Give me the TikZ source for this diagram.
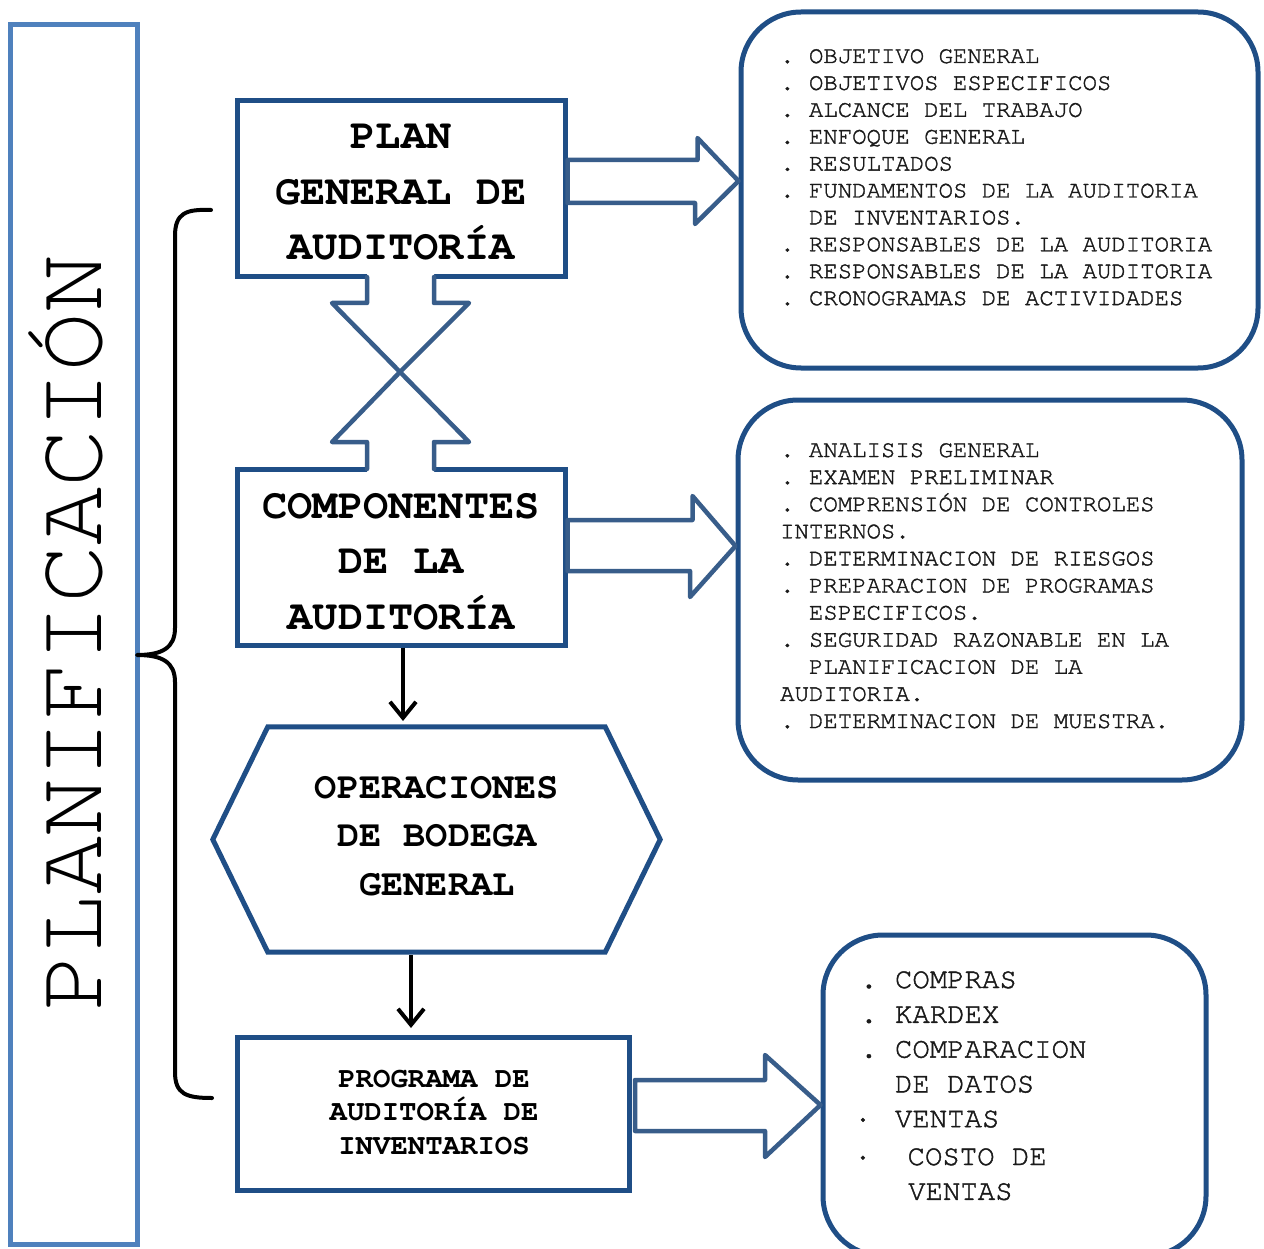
\documentclass[tikz,border=0pt]{standalone}
\usepackage{fontspec}
\setmainfont{TeX Gyre Cursor}
\newfontfamily\listfont[FakeBold=1.5]{TeX Gyre Cursor}
\usetikzlibrary{arrows.meta,calc}

\definecolor{boxblue}{HTML}{1F4E86}
\definecolor{arrowblue}{HTML}{385D8A}
\definecolor{frameblue}{HTML}{4F81BD}
\definecolor{listgray}{HTML}{1A1A1A}

\tikzset{
  mainbox/.style={draw=boxblue, line width=5pt, fill=white, inner sep=0pt},
  listbox/.style={draw=boxblue, line width=5pt, fill=white, rounded corners=60pt, inner sep=0pt},
  sideframe/.style={draw=frameblue, line width=5pt, inner sep=0pt},
  blockarrow/.style={draw=arrowblue, line width=4.5pt, line join=round, fill=white},
  openarrow/.style={draw=arrowblue, line width=4.5pt, line join=round, line cap=round},
  thinarrow/.style={draw=black, line width=4pt, -{Straight Barb[length=16pt,width=26pt,line width=4pt]}},
  bracestroke/.style={draw=black, line width=4pt, line cap=round, line join=round},
  headtext/.style={anchor=base, inner sep=0pt, text=black},
  listtext/.style={anchor=base west, inner sep=0pt, text=listgray}
}

\begin{document}
\frenchspacing
\begin{tikzpicture}[x=1pt,y=-1pt]
\useasboundingbox (0,0) rectangle (1264,1249);

% left frame with the vertical title
\node[sideframe, minimum width=127pt, minimum height=1219pt] (side) at (73.5,634.5) {};
\node[rotate=90, anchor=base, inner sep=0pt, font=\fontsize{97}{97}\selectfont] (sidetitle) at (101,633) {PLANIFICACIÓN};

% curly brace grouping the stages
\coordinate (bracetop) at (211,210);
\coordinate (bracetip) at (137,655);
\coordinate (bracebot) at (212,1098);
\draw[bracestroke] (bracetop) .. controls (186,209) and (175,213) .. (175,236)
  -- (175,628) .. controls (175,648) and (162,655) .. (bracetip)
  .. controls (162,655) and (175,662) .. (175,682)
  -- (175,1072) .. controls (175,1094) and (186,1098) .. (bracebot);

% main stage boxes
\node[mainbox, minimum width=328pt, minimum height=176pt] (plan) at (401,189) {};
\node[mainbox, minimum width=328pt, minimum height=176pt] (comp) at (401,557) {};
\node[mainbox, minimum width=392pt, minimum height=153pt] (prog) at (433,1113.5) {};

% hexagon for warehouse operations
\node[inner sep=0pt, minimum width=447pt, minimum height=225pt] (hex) at (436.5,839.5) {};
\draw[draw=boxblue, line width=5pt, line join=miter, fill=white]
  (hex.west) -- ($(hex.north west)+(55,0)$) -- ($(hex.north east)+(-55,0)$)
  -- (hex.east) -- ($(hex.south east)+(-55,0)$) -- ($(hex.south west)+(55,0)$) -- cycle;

% stage titles
\node[headtext, font=\bfseries\fontsize{42}{55.5}\selectfont] (plantext) at (401,149)
  {\begin{minipage}[t]{320pt}\centering PLAN\\GENERAL DE\\AUDITORÍA\end{minipage}};
\node[headtext, font=\bfseries\fontsize{42}{55.5}\selectfont] (comptext) at (401,518)
  {\begin{minipage}[t]{320pt}\centering COMPONENTES\\DE LA\\AUDITORÍA\end{minipage}};
\node[headtext, font=\bfseries\fontsize{37}{48.5}\selectfont] (hextext) at (437,798)
  {\begin{minipage}[t]{320pt}\centering OPERACIONES\\DE BODEGA\\GENERAL\end{minipage}};
\node[headtext, font=\bfseries\fontsize{29}{33.5}\selectfont] (progtext) at (434,1087)
  {\begin{minipage}[t]{320pt}\centering PROGRAMA DE\\AUDITORÍA DE\\INVENTARIOS\end{minipage}};

% detail boxes
\node[listbox, minimum width=517pt, minimum height=356pt] (detA) at (999.5,190) {};
\node[listbox, minimum width=504pt, minimum height=380pt] (detB) at (990,590) {};
\node[listbox, minimum width=383pt, minimum height=321pt] (detC) at (1014.5,1095.5) {};

\node[listtext, font=\listfont\fontsize{24}{26.9}\selectfont] (listA) at (780,63)
  {\begin{minipage}[t]{470pt}\raggedright
  . OBJETIVO GENERAL\\
  . OBJETIVOS ESPECIFICOS\\
  . ALCANCE DEL TRABAJO\\
  . ENFOQUE GENERAL\\
  . RESULTADOS\\
  . FUNDAMENTOS DE LA AUDITORIA\\
  \hspace*{28.8pt}DE INVENTARIOS.\\
  . RESPONSABLES DE LA AUDITORIA\\
  . RESPONSABLES DE LA AUDITORIA\\
  . CRONOGRAMAS DE ACTIVIDADES
  \end{minipage}};

\node[listtext, font=\listfont\fontsize{24}{27.1}\selectfont] (listB) at (780,457)
  {\begin{minipage}[t]{460pt}\raggedright
  . ANALISIS GENERAL\\
  . EXAMEN PRELIMINAR\\
  . COMPRENSIÓN DE CONTROLES\\
  INTERNOS.\\
  . DETERMINACION DE RIESGOS\\
  . PREPARACION DE PROGRAMAS\\
  \hspace*{28.8pt}ESPECIFICOS.\\
  . SEGURIDAD RAZONABLE EN LA\\
  \hspace*{28.8pt}PLANIFICACION DE LA\\
  AUDITORIA.\\
  . DETERMINACION DE MUESTRA.
  \end{minipage}};

\node[listtext, font=\listfont\fontsize{29}{34.8}\selectfont] (listC) at (860,988)
  {\begin{minipage}[t]{340pt}\raggedright
  . COMPRAS\\
  . KARDEX\\
  . COMPARACION\\
  \hspace*{34.8pt}DE DATOS\\
  \hspace*{-6pt}·\hspace*{6pt} VENTAS\\[3pt]
  \hspace*{-6pt}·\hspace*{36pt}COSTO DE\\
  \hspace*{48pt}VENTAS
  \end{minipage}};

% block arrows from stages to their detail boxes
\draw[blockarrow] ($(plan.east)+(0,-29)$) -- ++(130,0) -- ++(0,-22) -- (detA.west |- 0,181)
  -- (695,224) -- (695,203) -- ($(plan.east)+(0,14)$) -- cycle;
\draw[blockarrow] ($(comp.east)+(0,-37)$) -- ++(125,0) -- ++(0,-24) -- (detB.west |- 0,546)
  -- (690,597) -- (690,571) -- ($(comp.east)+(0,14)$) -- cycle;
\draw[blockarrow] (635,1080) -- (765,1080) -- (765,1055) -- (detC.west |- 0,1105)
  -- (765,1157) -- (765,1131) -- (635,1131) -- cycle;

% double arrow between the first two stages
\fill[white] (367,272) -- (367,303) -- (332,303) -- (400,372) -- (469,303) -- (434,303) -- (434,272) -- cycle;
\draw[openarrow] (367,277) -- (367,303) -- (332,303) -- (400,372) -- (469,303) -- (434,303) -- (434,277);
\fill[white] (367,474) -- (367,442) -- (332,442) -- (400,372) -- (469,442) -- (434,442) -- (434,474) -- cycle;
\draw[openarrow] (367,469) -- (367,442) -- (332,442) -- (400,372) -- (469,442) -- (434,442) -- (434,469);

% flow arrows down the column
\coordinate (hexin) at (403,721);
\coordinate (progin) at (411,1028);
\draw[thinarrow] ($(comp.south)+(2,0)$) -- (hexin);
\draw[thinarrow] ($(hex.south)+(-25.5,3)$) -- (progin);
\end{tikzpicture}
\end{document}
